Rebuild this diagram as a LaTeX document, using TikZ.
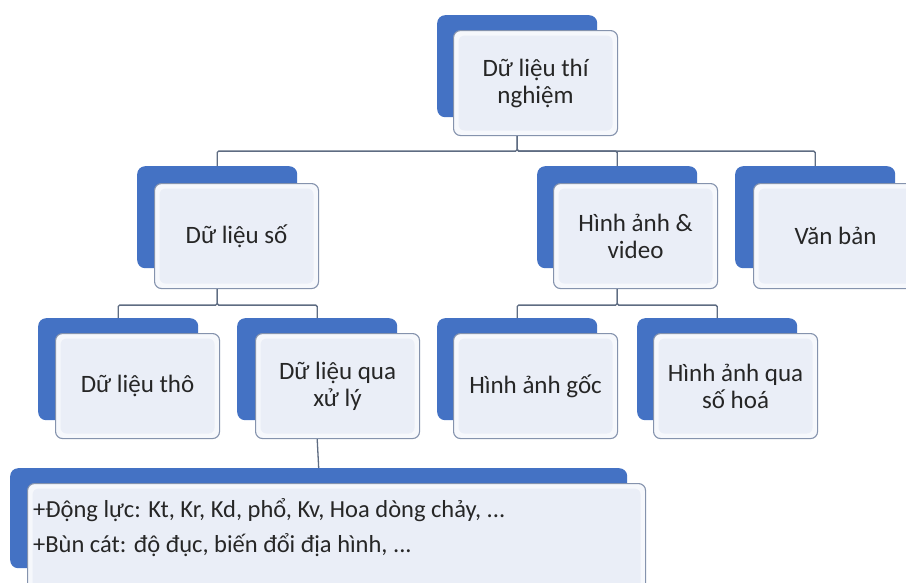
\documentclass[tikz,border=0pt]{standalone}
\usepackage{fontspec}
\setmainfont{Carlito}
\definecolor{myblue}{HTML}{4472C4}
\definecolor{frontouter}{HTML}{F6F8FC}
\definecolor{frontinner}{HTML}{EAEEF7}
\definecolor{frontdraw}{HTML}{8593AD}
\definecolor{connc}{HTML}{5E6C82}
\definecolor{textc}{HTML}{262626}
\tikzset{
  blueback/.style={fill=myblue, rounded corners=8pt, minimum width=160pt, minimum height=102pt, anchor=north west, inner sep=0pt},
  frontbox/.style={fill=frontouter, draw=frontdraw, line width=1.1pt, rounded corners=7pt,
    minimum width=164pt, minimum height=105pt, anchor=north west, inner sep=0pt, align=center,
    font=\fontsize{25}{27}\selectfont, text=textc,
    path picture={\fill[frontinner, rounded corners=6pt]
      ([shift={(5pt,-5pt)}]path picture bounding box.north west) rectangle
      ([shift={(-5pt,5pt)}]path picture bounding box.south east);}},
  conn/.style={draw=connc, line width=1.3pt, rounded corners=1.5pt},
}
\begin{document}
\begin{tikzpicture}[x=1pt,y=-1pt]
\useasboundingbox (0,0) rectangle (906,582);
\fill[white] (0,0) rectangle (906,582);
\clip (0,0) rectangle (906,582);

% level 1
\node[blueback] (b1) at (437,15) {};
% level 2
\node[blueback] (b2) at (137,166) {};
\node[blueback] (b3) at (537,166) {};
\node[blueback] (b4) at (735,166) {};
% level 3
\node[blueback] (b5) at (38,318) {};
\node[blueback] (b6) at (237,318) {};
\node[blueback] (b7) at (437,318) {};
\node[blueback] (b8) at (637,318) {};
% bottom
\node[blueback, minimum width=617pt, minimum height=100pt] (b9) at (10,468) {};

\node[frontbox] (n1) at (453,30) {Dữ liệu thí\\nghiệm};
\node[frontbox] (n2) at (154,183) {Dữ liệu số};
\node[frontbox] (n3) at (553,183) {Hình ảnh \&\\video};
\node[frontbox] (n4) at (753,183) {Văn bản};
\node[frontbox] (n5) at (55,333) {Dữ liệu thô};
\node[frontbox] (n6) at (255,333) {Dữ liệu qua\\xử lý};
\node[frontbox] (n7) at (453,333) {Hình ảnh gốc};
\node[frontbox] (n8) at (653,333) {Hình ảnh qua\\số hoá};
\node[frontbox, minimum width=618pt, minimum height=125pt] (n9) at (27,483) {};
\node[anchor=base west, inner sep=0pt, align=left, text=textc,
  font=\fontsize{24.5}{35}\selectfont] (t9) at (33,552)
  {+Động lực: Kt, Kr, Kd, phổ, Kv, Hoa dòng chảy, ...\\+Bùn cát: độ đục, biến đổi địa hình, ...};

\draw[conn] (b1.south |- n1.south) -- ++(0,15) -| (b2.north);
\draw[conn] (b1.south |- n1.south) -- ++(0,15) -| (b3.north);
\draw[conn] (b1.south |- n1.south) -- ++(0,15) -| (b4.north);
\draw[conn] (b2.south |- n2.south) -- ++(0,16) -| (b5.north);
\draw[conn] (b2.south |- n2.south) -- ++(0,16) -| (b6.north);
\draw[conn] (b3.south |- n3.south) -- ++(0,16) -| (b7.north);
\draw[conn] (b3.south |- n3.south) -- ++(0,16) -| (b8.north);
\draw[conn] (b6.south |- n6.south) -- (b9.north);
\end{tikzpicture}
\end{document}
